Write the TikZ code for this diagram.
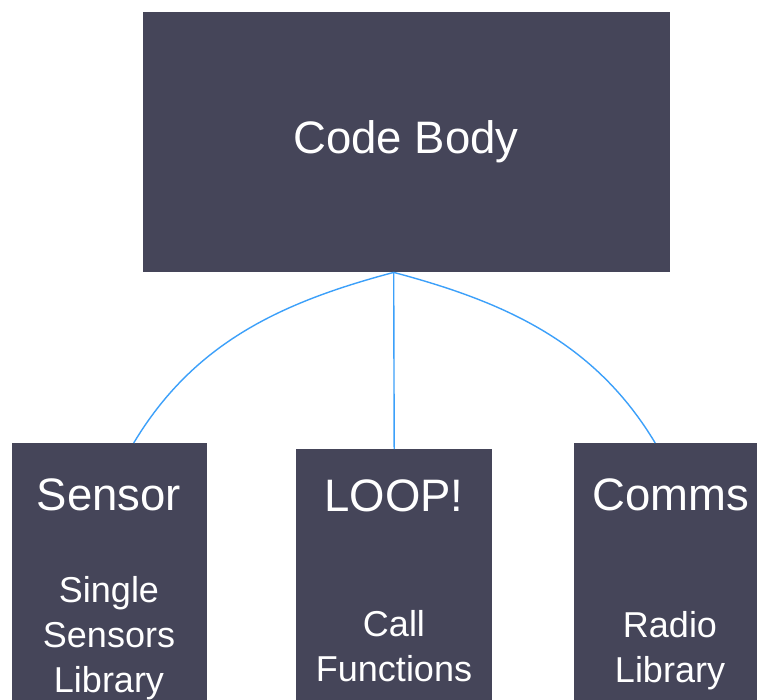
\documentclass[tikz,border=0pt]{standalone}
\usepackage{fontspec}
\setmainfont{Liberation Sans}
\definecolor{slate}{RGB}{69,69,89}
\definecolor{wire}{RGB}{60,160,250}
\begin{document}
\begin{tikzpicture}[x=1pt,y=-1pt,
  block/.style={fill=slate,draw=none,inner sep=0pt,anchor=north west},
  title/.style={text=white,anchor=base,inner sep=0pt,font=\fontsize{45.5}{48}\selectfont},
  detail/.style={text=white,anchor=base,inner sep=0pt,font=\fontsize{36}{45}\selectfont},
  link/.style={wire,line width=1.4pt}]
\clip (0,0) rectangle (757,700);
\fill[white] (0,0) rectangle (757,700);

% top block
\node[block,minimum width=527pt,minimum height=260pt] (body) at (143,12) {};
\node[title] (bodytxt) at (406,154) {Code Body};

% lower blocks
\node[block,minimum width=195pt,minimum height=260pt] (sensor) at (12,443) {};
\node[block,minimum width=196pt,minimum height=260pt] (loop) at (296,449) {};
\node[block,minimum width=196pt,minimum height=260pt] (comms) at (574,443) {};

\node[title] (sensortxt) at (109,510) {Sensor};
\node[detail] (s1) at (109,602) {Single};
\node[detail] (s2) at (109,647) {Sensors};
\node[detail] (s3) at (109,692) {Library};

\node[title] (looptxt) at (394,511) {LOOP!};
\node[detail] (l1) at (394,636) {Call};
\node[detail] (l2) at (394,681) {Functions};

\node[title] (commstxt) at (671,510) {Comms};
\node[detail] (c1) at (670,637) {Radio};
\node[detail] (c2) at (670,682) {Library};

% connectors
\draw[link] ([xshift=-13pt]body.south) .. controls +(-113,30) and +(60,-100) .. ([xshift=24pt]sensor.north);
\draw[link] ([xshift=-13pt]body.south) -- (loop.north);
\draw[link] ([xshift=-13pt]body.south) .. controls +(113,30) and +(-60,-100) .. ([xshift=-17pt]comms.north);
\end{tikzpicture}
\end{document}
